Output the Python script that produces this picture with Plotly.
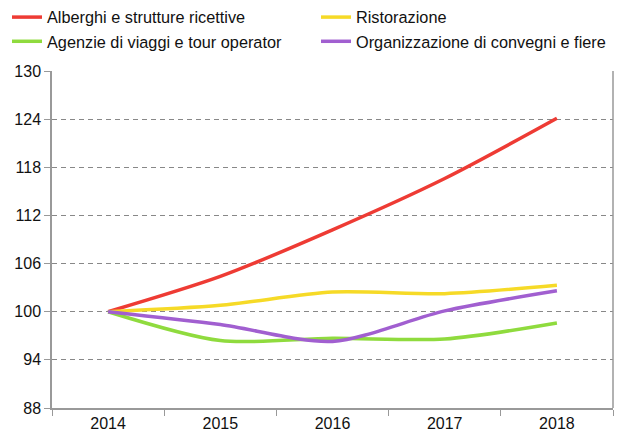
import plotly.graph_objects as go

years = ["2014", "2015", "2016", "2017", "2018"]
alberghi = [100, 104.4, 110.2, 116.6, 124.1]
ristorazione = [100, 100.8, 102.45, 102.25, 103.3]
agenzie = [100, 96.4, 96.7, 96.6, 98.6]
convegni = [100, 98.4, 96.3, 100.1, 102.6]

names = ["Alberghi e strutture ricettive", "Ristorazione",
         "Agenzie di viaggi e tour operator", "Organizzazione di convegni e fiere"]
colors = ["#ee3b34", "#f6da27", "#8fdb3e", "#a15fd0"]
series = [alberghi, ristorazione, agenzie, convegni]
legend_ids = ["legend", "legend2", "legend", "legend2"]

fig = go.Figure()
for n, c, s, lg in zip(names, colors, series, legend_ids):
    fig.add_trace(go.Scatter(x=years, y=s, name=n, mode="lines", legend=lg,
                             line=dict(color=c, width=3.5, shape="spline", smoothing=0.8)))

legend_common = dict(orientation="v", xref="container", yref="container",
                     yanchor="top", xanchor="left", tracegroupgap=0,
                     font=dict(size=16.3), bgcolor="rgba(0,0,0,0)",
                     traceorder="normal", borderwidth=0)
fig.update_layout(
    width=618, height=439,
    margin=dict(l=52, r=5, t=71, b=31, autoexpand=False),
    paper_bgcolor="white", plot_bgcolor="white",
    font=dict(family="Liberation Sans, Arial, sans-serif", size=16, color="#111"),
    legend=dict(x=7 / 618, y=1.007, **legend_common),
    legend2=dict(x=316 / 618, y=1.007, **legend_common),
    showlegend=True,
)
fig.update_xaxes(type="category", range=[-0.5, 4.5], showgrid=False,
                 showline=True, linecolor="#999", linewidth=1.5,
                 ticks="outside", tickson="boundaries", ticklen=6, tickcolor="#999",
                 tickfont=dict(size=16))
fig.update_yaxes(range=[88, 130], dtick=6, tick0=88, showgrid=True,
                 gridcolor="#888", griddash="5px,4px", gridwidth=1,
                 showline=True, linecolor="#999", linewidth=1.5,
                 ticks="outside", ticklen=6, tickcolor="#999",
                 tickfont=dict(size=16), zeroline=False)
fig.add_shape(type="line", xref="paper", yref="paper", x0=1, x1=1, y0=0, y1=1,
              line=dict(color="#999", width=1.5))
fig.write_html("out.html", config={"displayModeBar": False},
               post_script="document.body.style.margin='0';document.body.style.overflow='hidden';")
